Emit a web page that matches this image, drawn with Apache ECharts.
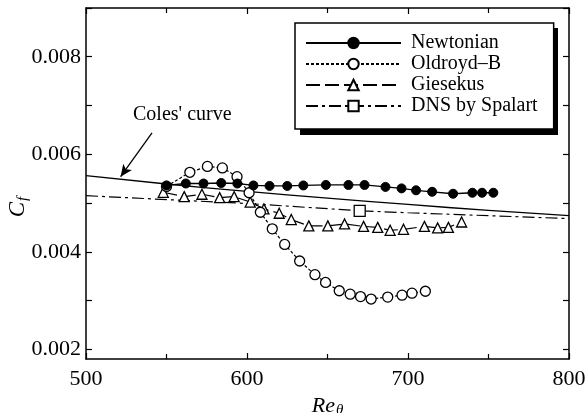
<!DOCTYPE html>
<html>
<head>
<meta charset="utf-8">
<script src="https://cdn.jsdelivr.net/npm/echarts@6/dist/echarts.min.js"></script>
<style>
  html, body { margin: 0; padding: 0; background: #fff; }
  #chart { width: 587px; height: 413px; }
</style>
</head>
<body>
<div id="chart"></div>
<script>
// Skin-friction coefficient versus momentum-thickness Reynolds number
const reNewtonian = [550, 562, 573, 584, 594, 604, 614, 625, 635, 649, 663, 673, 686, 696, 705, 715, 728, 740, 746, 753];
const cfNewtonian = [0.00536, 0.00540, 0.00540, 0.00541, 0.00540, 0.00536, 0.00535, 0.00535, 0.00536, 0.00537,
                     0.00537, 0.00537, 0.00533, 0.00530, 0.00526, 0.00523, 0.00519, 0.00521, 0.00521, 0.00521];

const reOldroyd = [550, 564.5, 575.4, 584.7, 593.8, 601.3, 608.3, 615.7, 623.4, 632.7, 642.2, 648.8, 657.3, 664.1, 670.5, 677.1, 687.4, 696.3, 702.5, 710.8];
const cfOldroyd = [0.00534, 0.00563, 0.00575, 0.00572, 0.00554, 0.00521, 0.00481, 0.00447, 0.00415, 0.00381,
                   0.00353, 0.00337, 0.00320, 0.00313, 0.00308, 0.00303, 0.00307, 0.00311, 0.00315, 0.00319];

const reGiesekus = [548, 561, 572, 583, 592, 602, 610.5, 620, 627.5, 638.4, 650.2, 660.6, 672.4, 681.2, 688.9, 697.2, 710.2, 718.4, 725.1, 733.3];
const cfGiesekus = [0.00522, 0.00513, 0.00518, 0.00511, 0.00513, 0.00502, 0.00488, 0.00479, 0.00466, 0.00453,
                    0.00453, 0.00457, 0.00452, 0.00450, 0.00444, 0.00446, 0.00452, 0.00449, 0.00450, 0.00461];

// Coles' correlation curve
const reColes = [500, 550, 600, 650, 700, 750, 800];
const cfColes = [0.00556, 0.00539, 0.00524, 0.00510, 0.00497, 0.00485, 0.00474];

// Spalart DNS: dash-dot curve with the single DNS point marked
const reSpalart = [500, 600, 670, 700, 800];
const cfSpalart = [0.00515, 0.00499, 0.00484, 0.00480, 0.00468];
const reSpalartPoint = 670;

// Arrow pointing at Coles' curve (data coordinates)
const colesArrowFrom = [541, 0.00644];
const colesArrowTo = [521.5, 0.00554];

const xTicks = [500, 600, 700, 800];
const yTickValues = [0.002, 0.003, 0.004, 0.005, 0.006, 0.007, 0.008, 0.009];
const yLabelValues = [0.002, 0.004, 0.006, 0.008];

const SERIF = '"Liberation Serif", "Times New Roman", serif';

function pairs(xs, ys) { return xs.map((x, i) => [x, ys[i]]); }

const chart = echarts.init(document.getElementById('chart'), null, { renderer: 'canvas' });

const axisLine = { show: true, lineStyle: { color: '#000', width: 1.5 } };

const xBase = {
  type: 'value', min: xTicks[0], max: xTicks[xTicks.length - 1], interval: 100,
  axisLine: axisLine,
  axisTick: { show: true, inside: true, length: 6, lineStyle: { color: '#000', width: 1.2 } },
  minorTick: { show: true, splitNumber: 2, length: 5, lineStyle: { color: '#000', width: 1.2 } },
  splitLine: { show: false },
  minorSplitLine: { show: false }
};

const yBase = {
  type: 'value', min: 0.0018, max: 0.009,
  axisLine: axisLine,
  axisTick: { show: true, inside: true, length: 6, customValues: yTickValues, lineStyle: { color: '#000', width: 1.2 } },
  splitLine: { show: false }
};

chart.setOption({
  animation: false,
  backgroundColor: '#fff',
  grid: { left: 86, right: 18, top: 8, bottom: 54, containLabel: false, outerBoundsMode: 'none' },
  xAxis: [
    Object.assign({}, xBase, {
      position: 'bottom',
      axisLabel: { show: true, margin: 9, color: '#000', fontFamily: SERIF, fontSize: 22 },
      name: '{i|Re}{s|θ}',
      nameLocation: 'middle',
      nameGap: 25,
      nameTextStyle: {
        rich: {
          i: { fontFamily: SERIF, fontStyle: 'italic', fontSize: 22, color: '#000' },
          s: { fontFamily: SERIF, fontStyle: 'italic', fontSize: 15, color: '#000', padding: [8, 0, 0, 1] }
        }
      }
    }),
    Object.assign({}, xBase, { position: 'top', axisLabel: { show: false } })
  ],
  yAxis: [
    Object.assign({}, yBase, {
      position: 'left',
      axisLabel: {
        show: true, margin: 5, color: '#000', fontFamily: SERIF, fontSize: 22,
        customValues: yLabelValues,
        formatter: v => v.toFixed(3)
      }
    }),
    Object.assign({}, yBase, { position: 'right', axisLabel: { show: false } })
  ],
  legend: {
    data: ['Newtonian', 'Oldroyd–B', 'Giesekus', 'DNS by Spalart'],
    orient: 'vertical',
    left: 295, top: 23,
    padding: [10, 16, 13, 10],
    itemWidth: 95, itemHeight: 13, itemGap: 1,
    selectedMode: false,
    backgroundColor: '#fff',
    borderColor: '#000', borderWidth: 1.5,
    z: 10,
    textStyle: { color: '#000', fontFamily: SERIF, fontSize: 20, lineHeight: 20, padding: [0, 0, 0, 5] }
  },
  graphic: [
    {
      // solid drop shadow behind the legend box
      type: 'rect', z: 1, silent: true,
      shape: { x: 300, y: 28, width: 258, height: 107 },
      style: { fill: '#000' }
    },
    {
      type: 'text', left: 133, top: 105,
      style: { text: "Coles' curve", font: '20px ' + SERIF, fill: '#000' }
    },
    {
      type: 'text', x: 18, y: 207, rotation: Math.PI / 2,
      style: {
        text: '{c|C}{s|f}', align: 'center', verticalAlign: 'middle',
        rich: {
          c: { font: 'italic 23px ' + SERIF, fill: '#000' },
          s: { font: 'italic 15px ' + SERIF, fill: '#000', padding: [10, 0, 0, 1] }
        }
      }
    }
  ],
  series: [
    {
      name: "Coles' curve", type: 'line', smooth: true, symbol: 'none',
      data: pairs(reColes, cfColes),
      lineStyle: { color: '#000', width: 1.3, type: 'solid' },
      markLine: {
        silent: true, animation: false,
        symbol: ['none', 'arrow'], symbolSize: [8, 12],
        label: { show: false },
        lineStyle: { color: '#000', width: 1.3, type: 'solid' },
        data: [[{ coord: colesArrowFrom }, { coord: colesArrowTo }]]
      },
      z: 2
    },
    {
      name: 'DNS by Spalart', type: 'line', symbol: 'rect', symbolSize: 11,
      data: reSpalart.map((x, i) => x === reSpalartPoint
        ? { value: [x, cfSpalart[i]] }
        : { value: [x, cfSpalart[i]], symbol: 'none' }),
      lineStyle: { color: '#000', width: 1.2, type: [12, 4, 3, 4] },
      itemStyle: { color: '#fff', borderColor: '#000', borderWidth: 1.3 },
      z: 3
    },
    {
      name: 'Giesekus', type: 'line', symbol: 'triangle', symbolSize: 10,
      data: pairs(reGiesekus, cfGiesekus),
      lineStyle: { color: '#000', width: 1.2, type: [14, 5] },
      itemStyle: { color: '#fff', borderColor: '#000', borderWidth: 1.3 },
      z: 4
    },
    {
      name: 'Oldroyd–B', type: 'line', symbol: 'circle', symbolSize: 10,
      data: pairs(reOldroyd, cfOldroyd),
      lineStyle: { color: '#000', width: 1.2, type: [3, 2] },
      itemStyle: { color: '#fff', borderColor: '#000', borderWidth: 1.3 },
      z: 5
    },
    {
      name: 'Newtonian', type: 'line', symbol: 'circle', symbolSize: 9,
      data: pairs(reNewtonian, cfNewtonian),
      lineStyle: { color: '#000', width: 1.3, type: 'solid' },
      itemStyle: { color: '#000', borderColor: '#000', borderWidth: 1 },
      z: 6
    }
  ]
});
</script>
</body>
</html>
